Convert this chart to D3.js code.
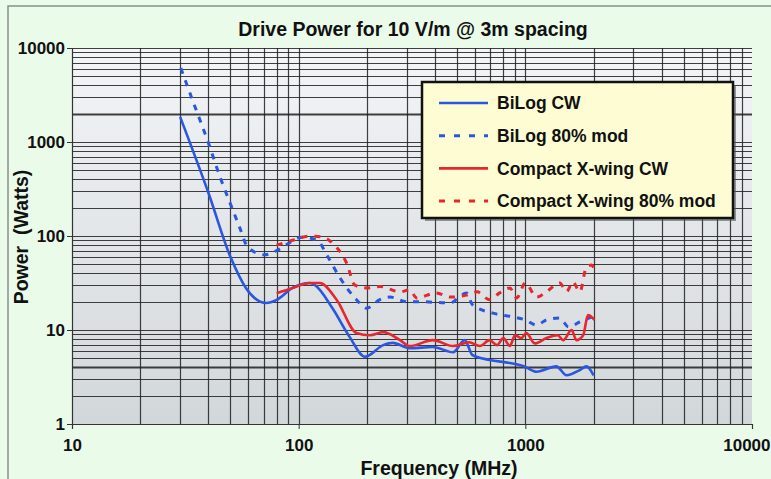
<!DOCTYPE html>
<html>
<head>
<meta charset="utf-8">
<script src="https://cdn.jsdelivr.net/npm/d3@7"></script>
<style>
  body { margin: 0; background: #eafbe9; }
  text { font-family: Arial, "Liberation Sans", sans-serif; font-weight: bold; fill: #111; }
</style>
</head>
<body>
<div id="chart"></div>
<script>
// frequency (MHz) / power (W) pairs
let bilogCwF = [30, 40, 50, 58.5, 71.8, 80, 94, 112, 118, 141, 168, 196, 236, 260, 309, 391, 480, 540, 585, 695, 855, 990, 1120, 1370, 1520, 1740, 1860, 2000];
let bilogCwP = [1850, 287, 60, 28, 19.4, 20.9, 28, 31.6, 30, 17, 8.4, 5.2, 6.9, 7.3, 6.4, 6.6, 5.8, 7.8, 5.4, 4.8, 4.45, 4.1, 3.6, 4.1, 3.3, 3.75, 4.1, 3.3];

let bilogModF = [30.2, 34.9, 40, 45, 50.8, 55, 59.6, 71, 80, 104, 121, 133, 152, 180, 199, 228, 253, 300, 342, 465, 550, 585, 720, 880, 1000, 1120, 1240, 1420, 1550, 1740, 1960];
let bilogModP = [6120, 2360, 975, 424, 199, 122, 76, 63, 70, 97, 90, 63, 36, 21, 17, 21, 22.4, 20, 20, 19.4, 24.8, 18.5, 15.1, 13.8, 12.8, 11.3, 12.8, 13.4, 10.8, 12.2, 13.8];

let xwingCwF = [80, 94, 112, 124, 147, 180, 206, 236, 280, 309, 391, 480, 565, 630, 695, 750, 800, 855, 900, 960, 1010, 1100, 1240, 1390, 1470, 1600, 1680, 1800, 1890, 2020];
let xwingCwP = [24.6, 28, 31.6, 31.6, 21, 9.3, 8.8, 9.5, 7.8, 6.75, 7.8, 6.75, 7.4, 6.75, 7.8, 6.9, 8.2, 6.75, 8.8, 8.2, 9.3, 7.2, 8.2, 8.8, 7.8, 10, 7.8, 8.8, 14.4, 12.8];

let xwingModF = [80, 94, 112, 128, 141, 163, 177, 199, 228, 280, 309, 332, 405, 465, 550, 612, 695, 770, 855, 915, 1000, 1120, 1240, 1420, 1520, 1620, 1740, 1860, 1960, 2040];
let xwingModP = [80, 90, 100, 97, 84, 51, 30, 28, 29, 25.5, 26.7, 21.9, 24.8, 22.4, 23.5, 25.5, 21, 24.8, 28, 21.9, 31.6, 22.4, 25.5, 31.6, 25.5, 32.5, 25.5, 46.6, 49, 40];

let seriesNames = ["BiLog CW", "BiLog 80% mod", "Compact X-wing CW", "Compact X-wing 80% mod"];
let seriesColors = ["#2b57e0", "#2b57e0", "#e8262e", "#e8262e"];
let seriesDashed = [false, true, false, true];

let xTicks = [10, 100, 1000, 10000];
let yTicks = [1, 10, 100, 1000, 10000];

let title = "Drive Power for 10 V/m @ 3m spacing";
let xTitle = "Frequency (MHz)";
let yTitle = "Power  (Watts)";

let series = [
  bilogCwF.map((f, i) => [f, bilogCwP[i]]),
  bilogModF.map((f, i) => [f, bilogModP[i]]),
  xwingCwF.map((f, i) => [f, xwingCwP[i]]),
  xwingModF.map((f, i) => [f, xwingModP[i]])
];

function renderChart() {
  let width = 771, height = 479;
  let left = 72, right = 752, top = 48, bottom = 424;

  let svg = d3.select("#chart").append("svg")
    .attr("width", width)
    .attr("height", height);

  // outer frame
  svg.append("rect")
    .attr("x", 8).attr("y", 6)
    .attr("width", width).attr("height", height)
    .attr("fill", "#eafbe9")
    .attr("stroke", "#8a8f8a").attr("stroke-width", 1.5);

  let defs = svg.append("defs");
  let grad = defs.append("linearGradient")
    .attr("id", "plotbg").attr("x1", 0).attr("y1", 0).attr("x2", 0).attr("y2", 1);
  grad.append("stop").attr("offset", "0%").attr("stop-color", "#f3f5f7");
  grad.append("stop").attr("offset", "100%").attr("stop-color", "#d2d7da");

  let x = d3.scaleLog().domain([10, 10000]).range([left, right]);
  let y = d3.scaleLog().domain([1, 10000]).range([bottom, top]);

  svg.append("rect")
    .attr("x", left).attr("y", top)
    .attr("width", right - left).attr("height", bottom - top)
    .attr("fill", "url(#plotbg)");

  // minor + major grid
  let xGrid = [], yGrid = [];
  for (let d = 10; d < 10000; d *= 10) for (let k = 1; k <= 9; k++) if (d * k > 10) xGrid.push(d * k);
  for (let d = 1; d < 10000; d *= 10) for (let k = 1; k <= 9; k++) if (d * k > 1) yGrid.push(d * k);
  yGrid.push(10000);

  let grid = svg.append("g").attr("stroke", "#1e1e1e").attr("stroke-opacity", 0.85);
  grid.selectAll(".vg").data(xGrid).enter().append("line")
    .attr("x1", d => Math.round(x(d)) + 0.5).attr("x2", d => Math.round(x(d)) + 0.5)
    .attr("y1", top).attr("y2", bottom)
    .attr("stroke-width", 1.2);
  grid.selectAll(".hg").data(yGrid).enter().append("line")
    .attr("y1", d => Math.round(y(d)) + 0.5).attr("y2", d => Math.round(y(d)) + 0.5)
    .attr("x1", left).attr("x2", right)
    .attr("stroke-width", d => (d === 4 || d === 2000) ? 1.8 : 1.2);

  // axes
  let xAxis = svg.append("g")
    .attr("transform", `translate(0,${bottom})`)
    .call(d3.axisBottom(x).tickValues(xTicks).tickFormat(d3.format("d")).tickSize(5).tickPadding(7));
  let yAxis = svg.append("g")
    .attr("transform", `translate(${left},0)`)
    .call(d3.axisLeft(y).tickValues(yTicks).tickFormat(d3.format("d")).tickSize(5).tickPadding(2));
  [xAxis, yAxis].forEach(a => {
    a.select(".domain").attr("stroke", "#333").attr("stroke-width", 1.2);
    a.selectAll(".tick line").attr("stroke", "#333");
    a.selectAll("text").style("font-size", "17px").style("font-weight", "bold")
      .style("font-family", "Arial, 'Liberation Sans', sans-serif").attr("fill", "#111");
  });
  xAxis.selectAll("text").attr("dy", "0.9em");
  xAxis.selectAll(".tick").filter(d => d === 10000).select("text")
    .attr("text-anchor", "end").attr("x", 770 - right);
  yAxis.selectAll("text").attr("dy", "0.35em");

  // series
  let line = d3.line().x(d => x(d[0])).y(d => y(d[1])).curve(d3.curveMonotoneX);
  let order = [1, 3, 0, 2];
  order.forEach(i => {
    svg.append("path")
      .datum(series[i])
      .attr("d", line)
      .attr("fill", "none")
      .attr("stroke", seriesColors[i])
      .attr("stroke-width", seriesDashed[i] ? 3 : 2.6)
      .attr("stroke-dasharray", seriesDashed[i] ? "6,7" : null)
      .attr("stroke-linejoin", "round");
  });

  // legend
  let lg = svg.append("g").attr("transform", "translate(422,82)");
  lg.append("rect").attr("x", 3).attr("y", 3).attr("width", 311).attr("height", 136)
    .attr("fill", "#555").attr("opacity", 0.6);
  lg.append("rect").attr("width", 311).attr("height", 136)
    .attr("fill", "#fdfcd2").attr("stroke", "#111").attr("stroke-width", 2.5);
  seriesNames.forEach((name, i) => {
    let row = lg.append("g").attr("transform", `translate(0,${21 + i * 32.7})`);
    row.append("line")
      .attr("x1", 17).attr("x2", 66)
      .attr("stroke", seriesColors[i])
      .attr("stroke-width", seriesDashed[i] ? 3 : 2.6)
      .attr("stroke-dasharray", seriesDashed[i] ? "6,9" : null);
    row.append("text").attr("x", 75).attr("dy", "0.35em")
      .style("font-size", "17.5px").text(name);
  });

  // titles
  svg.append("text").attr("x", 413).attr("y", 36)
    .attr("text-anchor", "middle").style("font-size", "19.5px").text(title);
  svg.append("text").attr("x", 439).attr("y", 475)
    .attr("text-anchor", "middle").style("font-size", "19.5px").text(xTitle);
  svg.append("text")
    .attr("transform", "translate(28,237) rotate(-90)")
    .attr("text-anchor", "middle").style("font-size", "19.5px")
    .style("white-space", "pre").text(yTitle);
}

renderChart();
</script>
</body>
</html>
